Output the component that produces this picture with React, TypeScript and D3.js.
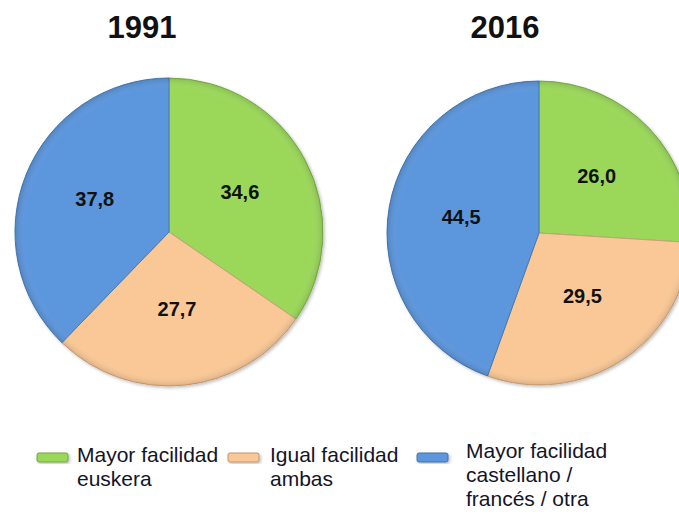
import React from "react";
import * as d3 from "d3";

const categories = ["Mayor facilidad euskera", "Igual facilidad ambas", "Mayor facilidad castellano / francés / otra"];
const years = ["1991", "2016"];
const values1991 = [34.6, 27.7, 37.8];
const values2016 = [26.0, 29.5, 44.5];
const colors = ["#9bd85a", "#fac896", "#5b96dc"];
const legendLines = [["Mayor facilidad", "euskera"], ["Igual facilidad", "ambas"], ["Mayor facilidad", "castellano /", "francés / otra"]];

const W = 679;
const H = 521;

const pies = [
  { year: years[0], values: values1991, cx: 169, cy: 232, r: 154, titleX: 142 },
  { year: years[1], values: values2016, cx: 539, cy: 233, r: 152, titleX: 505 },
];

const fmt = (v: number) => v.toFixed(1).replace(".", ",");

export default function App() {
  const pieGen = d3.pie<number>().sort(null).value((d) => d);
  const legendX = [37, 228, 417];
  const legendTextX = [77, 270, 466];
  const legendBase = [462, 462, 458];
  return (
    <svg width={W} height={H} style={{ position: "absolute", left: 0, top: 0, background: "#fff" }} fontFamily="'Liberation Sans', Arial, sans-serif">
      <defs>
        <filter id="sh" x="-10%" y="-10%" width="130%" height="130%">
          <feDropShadow dx="1.5" dy="1.5" stdDeviation="1.5" floodColor="#000" floodOpacity="0.25" />
        </filter>
        <radialGradient id="shade" cx="50%" cy="50%" r="50%">
          <stop offset="0.93" stopColor="#fff" stopOpacity="0" />
          <stop offset="1" stopColor="#000" stopOpacity="0.12" />
        </radialGradient>
      </defs>
      {pies.map((p) => {
        const arcs = pieGen(p.values);
        const arc = d3.arc<d3.PieArcDatum<number>>().innerRadius(0).outerRadius(p.r);
        const labelArc = d3.arc<d3.PieArcDatum<number>>().innerRadius(p.r * 0.52).outerRadius(p.r * 0.52);
        return (
          <g key={p.year}>
            <text x={p.titleX} y={38} textAnchor="middle" fontSize={31} fontWeight="bold" fill="#111">{p.year}</text>
            <g transform={`translate(${p.cx},${p.cy})`}>
              <g filter="url(#sh)">
                {arcs.map((a, i) => (
                  <path key={i} d={arc(a) || ""} fill={colors[i]} stroke={d3.color(colors[i])!.darker(0.6).toString()} strokeWidth={1} />
                ))}
              </g>
              <circle r={p.r} fill="url(#shade)" />
              {arcs.map((a, i) => {
                const [x, y] = labelArc.centroid(a);
                return (
                  <text key={i} x={x} y={y - 3} dy="0.36em" textAnchor="middle" fontSize={20} fontWeight="bold" fill="#111">{fmt(p.values[i])}</text>
                );
              })}
            </g>
          </g>
        );
      })}
      {categories.map((c, i) => (
        <g key={c}>
          <rect x={legendX[i]} y={453} width={31} height={9} rx={2} fill={colors[i]} stroke={d3.color(colors[i])!.darker(0.8).toString()} strokeWidth={1} filter="url(#sh)" />
          <text fontSize={21} fill="#141428">
            {legendLines[i].map((l, j) => (
              <tspan key={j} x={legendTextX[i]} y={legendBase[i] + j * 24}>{l}</tspan>
            ))}
          </text>
        </g>
      ))}
    </svg>
  );
}
